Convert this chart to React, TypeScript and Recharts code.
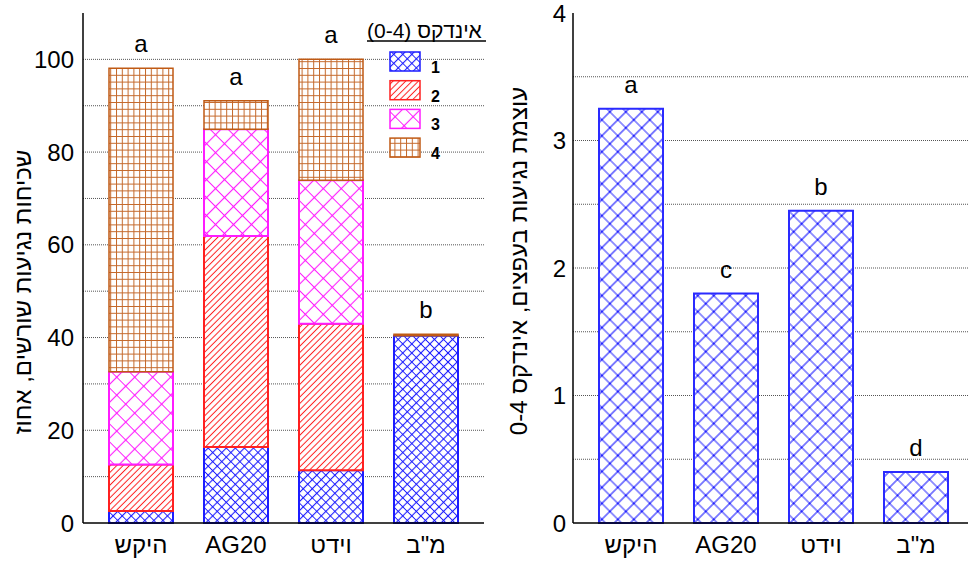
import React from 'react';
import { BarChart, Bar, XAxis, YAxis, CartesianGrid, LabelList } from 'recharts';

const categories = ['היקש', 'AG20', 'וידט', 'מ"ב'];

// left panel: root infestation frequency (%), stacked by index 1-4
const index1 = [2.6, 16.4, 11.4, 40.4];
const index2 = [10.0, 45.5, 31.6, 0];
const index3 = [20.0, 23.0, 30.9, 0];
const index4 = [65.5, 6.2, 26.1, 0.3];
const leftLetters = ['a', 'a', 'a', 'b'];
const leftTicks = [0, 20, 40, 60, 80, 100];
const leftGrid = [10, 20, 30, 40, 50, 60, 70, 80, 90, 100];

// right panel: gall severity index 0-4
const severity = [3.25, 1.8, 2.45, 0.4];
const rightLetters = ['a', 'c', 'b', 'd'];
const rightTicks = [0, 1, 2, 3, 4];
const rightGrid = [0.5, 1, 1.5, 2, 2.5, 3, 3.5];

const FONT = '"Liberation Sans", Arial, sans-serif';

const SERIES = [
  { key: 'i1', name: '1', fill: 'url(#p1)', stroke: '#1c1cff' },
  { key: 'i2', name: '2', fill: 'url(#p2)', stroke: '#ff2020' },
  { key: 'i3', name: '3', fill: 'url(#p3)', stroke: '#ff1cff' },
  { key: 'i4', name: '4', fill: 'url(#p4)', stroke: '#c05a14' },
];

const leftData = categories.map((c, i) => ({
  name: c,
  i1: index1[i],
  i2: index2[i],
  i3: index3[i],
  i4: index4[i],
}));

const rightData = categories.map((c, i) => ({ name: c, value: severity[i] }));

const tickStyle = { fontSize: 24, fill: '#000', fontFamily: FONT };

function letterLabel(letters: string[]) {
  return (props: any) => {
    const vb = props.viewBox ?? props;
    return (
      <text
        x={vb.x + vb.width / 2}
        y={vb.y - 16}
        textAnchor="middle"
        fontSize={24}
        fontFamily={FONT}
        fill="#000"
      >
        {letters[props.index]}
      </text>
    );
  };
}

function Patterns() {
  return (
    <svg width={0} height={0} style={{ position: 'absolute' }}>
      <defs>
        <pattern id="p1" patternUnits="userSpaceOnUse" width={6.4} height={6.4} patternTransform="rotate(45)">
          <rect width={6.4} height={6.4} fill="#fff" />
          <path d="M0 3.2H6.4M3.2 0V6.4" stroke="#1c1cff" strokeWidth={1.1} />
          <circle cx={3.2} cy={3.2} r={0.9} fill="#1c1cff" />
        </pattern>
        <pattern id="p2" patternUnits="userSpaceOnUse" width={4.5} height={4.5} patternTransform="rotate(45)">
          <rect width={4.5} height={4.5} fill="#fff" />
          <path d="M2.25 0V4.5" stroke="#ff2020" strokeWidth={1} />
        </pattern>
        <pattern id="p3" patternUnits="userSpaceOnUse" width={12.7} height={12.7} patternTransform="rotate(45)">
          <rect width={12.7} height={12.7} fill="#fff" />
          <path d="M0 6.35H12.7M6.35 0V12.7" stroke="#ff1cff" strokeWidth={1.1} />
          <circle cx={6.35} cy={6.35} r={1} fill="#ff1cff" />
        </pattern>
        <pattern id="p4" patternUnits="userSpaceOnUse" width={5.8} height={6.8}>
          <rect width={5.8} height={6.8} fill="#fff" />
          <path d="M0.5 0V6.8M0 0.5H5.8" stroke="#c4682a" strokeWidth={1} />
        </pattern>
        <pattern id="pr" patternUnits="userSpaceOnUse" width={11.3} height={11.3} patternTransform="rotate(45)">
          <rect width={11.3} height={11.3} fill="#fff" />
          <path d="M0 5.65H11.3M5.65 0V11.3" stroke="#1c1cff" strokeWidth={1.1} />
          <circle cx={5.65} cy={5.65} r={1} fill="#1c1cff" />
        </pattern>
      </defs>
    </svg>
  );
}

export default function App() {
  const axisLine = { stroke: '#000', strokeWidth: 1.5 };
  return (
    <div
      style={{
        position: 'absolute',
        left: 0,
        top: 0,
        width: 968,
        height: 563,
        overflow: 'hidden',
        background: '#fff',
        fontFamily: FONT,
      }}
    >
      <Patterns />

      <div style={{ position: 'absolute', left: 0, top: 0 }}>
        <BarChart
          width={500}
          height={563}
          data={leftData}
          margin={{ top: 13, right: 16, bottom: 0, left: 0 }}
          barCategoryGap={15.5}
        >
          <CartesianGrid
            vertical={false}
            horizontalValues={leftGrid}
            stroke="#555"
            strokeDasharray="1 1"
          />
          <XAxis
            dataKey="name"
            height={40}
            padding={{ left: 10.5, right: 10.5 }}
            tickLine={false}
            tickSize={0}
            tickMargin={13}
            axisLine={axisLine}
            tick={tickStyle}
          />
          <XAxis xAxisId="top" orientation="top" height={0} tick={false} tickLine={false} axisLine={axisLine} />
          <YAxis
            domain={[0, 110]}
            ticks={leftTicks}
            width={83}
            tickLine={false}
            tickSize={0}
            tickMargin={9}
            axisLine={axisLine}
            tick={tickStyle}
          />
          <YAxis yAxisId="r" orientation="right" width={0} domain={[0, 110]} tick={false} tickLine={false} axisLine={axisLine} />
          {SERIES.map((s) => (
            <Bar
              key={s.key}
              dataKey={s.key}
              stackId="a"
              fill={s.fill}
              stroke={s.stroke}
              strokeWidth={s.key === 'i4' ? 1.5 : 2}
              isAnimationActive={false}
            >
              {s.key === 'i4' && <LabelList dataKey="name" content={letterLabel(leftLetters)} />}
            </Bar>
          ))}
        </BarChart>
      </div>

      <div style={{ position: 'absolute', left: 490, top: 0 }}>
        <BarChart
          width={500}
          height={563}
          data={rightData}
          margin={{ top: 13, right: 16, bottom: 0, left: 0 }}
          barCategoryGap={15.5}
        >
          <CartesianGrid
            vertical={false}
            horizontalValues={rightGrid}
            stroke="#555"
            strokeDasharray="1 1"
          />
          <XAxis
            dataKey="name"
            height={40}
            padding={{ left: 10.5, right: 10.5 }}
            tickLine={false}
            tickSize={0}
            tickMargin={13}
            axisLine={axisLine}
            tick={tickStyle}
          />
          <XAxis xAxisId="top" orientation="top" height={0} tick={false} tickLine={false} axisLine={axisLine} />
          <YAxis
            domain={[0, 4]}
            ticks={rightTicks}
            width={83}
            tickLine={false}
            tickSize={0}
            tickMargin={7}
            axisLine={axisLine}
            tick={tickStyle}
          />
          <Bar dataKey="value" fill="url(#pr)" stroke="#2a2aff" strokeWidth={2} isAnimationActive={false}>
            <LabelList dataKey="name" content={letterLabel(rightLetters)} />
          </Bar>
        </BarChart>
      </div>

      <svg
        width={968}
        height={563}
        style={{ position: 'absolute', left: 0, top: 0, pointerEvents: 'none' }}
        fontFamily={FONT}
      >
        <text transform="translate(22,292) rotate(-90)" textAnchor="middle" dominantBaseline="central" fontSize={24} fill="#000">
          שכיחות נגיעות שורשים, אחוז
        </text>
        <text transform="translate(518,261) rotate(-90)" textAnchor="middle" dominantBaseline="central" fontSize={24} fill="#000">
          עוצמת נגיעות בעפצים, אינדקס 0-4
        </text>

        {/* legend */}
        <line x1={367} x2={486} y1={41} y2={41} stroke="#000" strokeWidth={1.5} />
        {SERIES.map((s, i) => (
          <g key={s.key}>
            <rect x={390} y={52 + i * 28.7} width={30} height={19} fill={s.fill} stroke={s.stroke} strokeWidth={1.5} />
            <text x={431} y={73 + i * 28.7} fontSize={16} fontWeight="bold" fill="#000">
              {s.name}
            </text>
          </g>
        ))}
      </svg>
      <div
        dir="ltr"
        style={{
          position: 'absolute',
          left: 367,
          top: 19,
          fontSize: 21,
          lineHeight: '24px',
          whiteSpace: 'nowrap',
          color: '#000',
        }}
      >
        אינדקס (0-4)
      </div>
    </div>
  );
}
